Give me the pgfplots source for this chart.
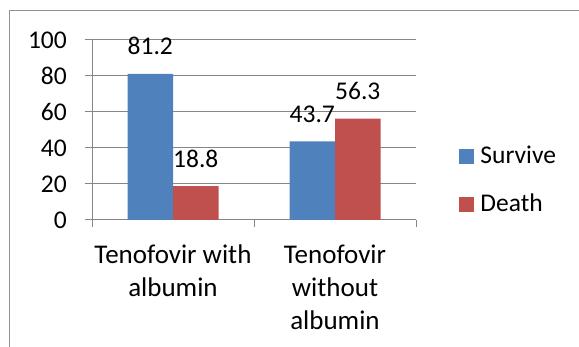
\documentclass[border=0pt]{standalone}
\usepackage{fontspec}
\setmainfont{Carlito}
\usepackage{pgfplots}
\pgfplotsset{compat=1.18}
\definecolor{sblue}{HTML}{4F81BD}
\definecolor{sred}{HTML}{C0504D}
\definecolor{gridc}{HTML}{868686}
\begin{document}
\begin{tikzpicture}[font=\fontsize{25.5}{33}\selectfont]
\path[use as bounding box] (0,0) rectangle (579pt,347pt);
\draw[color=gridc!90, line width=1.5pt] (9.5pt,0) -- (9.5pt,336.5pt) -- (579pt,336.5pt);
\begin{axis}[
 at={(92pt,127pt)}, anchor=south west,
 scale only axis, width=324pt, height=180pt,
 ybar=0pt, bar width=45.5pt,
 xmin=-0.5, xmax=1.5, ymin=0, ymax=100,
 ytick={0,20,...,100},
 xtick={-0.5,0.5,1.5}, xticklabels={},
 extra x ticks={0,1},
 extra x tick labels={{Tenofovir with\\albumin},{Tenofovir\\without\\albumin}},
 extra x tick style={major tick length=0pt, grid=none},
 axis x line*=bottom, axis y line*=left,
 ymajorgrids, grid style={gridc, line width=1pt},
 axis line style={gridc, line width=1pt},
 tick style={gridc, line width=1pt},
 tick align=outside, major tick length=7pt,
 xticklabel style={align=center, anchor=north, inner sep=0pt, yshift=-24.5pt,
   font=\fontsize{27}{33}\selectfont},
 yticklabel style={anchor=east, inner sep=0pt, xshift=-18pt},
 /pgf/number format/assume math mode=true,
 nodes near coords,
 nodes near coords style={anchor=base, inner sep=0pt, yshift=19pt, black},
 legend image code/.code={\fill[#1] (0pt,0pt) rectangle (15pt,15pt);},
 legend style={at={(1.1327,0.4111)}, anchor=north west, draw=none, fill=none,
   inner sep=0pt, outer sep=0pt, row sep=24pt, column sep=6.5pt,
   nodes={inner sep=0pt, text height=18pt, text depth=6pt, anchor=base west}},
 legend cell align=left,
]
\addplot[fill=sblue, draw=none] coordinates {(0,81.2) (1,43.7)};
\addplot[fill=sred, draw=none] coordinates {(0,18.8) (1,56.3)};
\legend{Survive,Death}
\end{axis}
\end{tikzpicture}
\end{document}
